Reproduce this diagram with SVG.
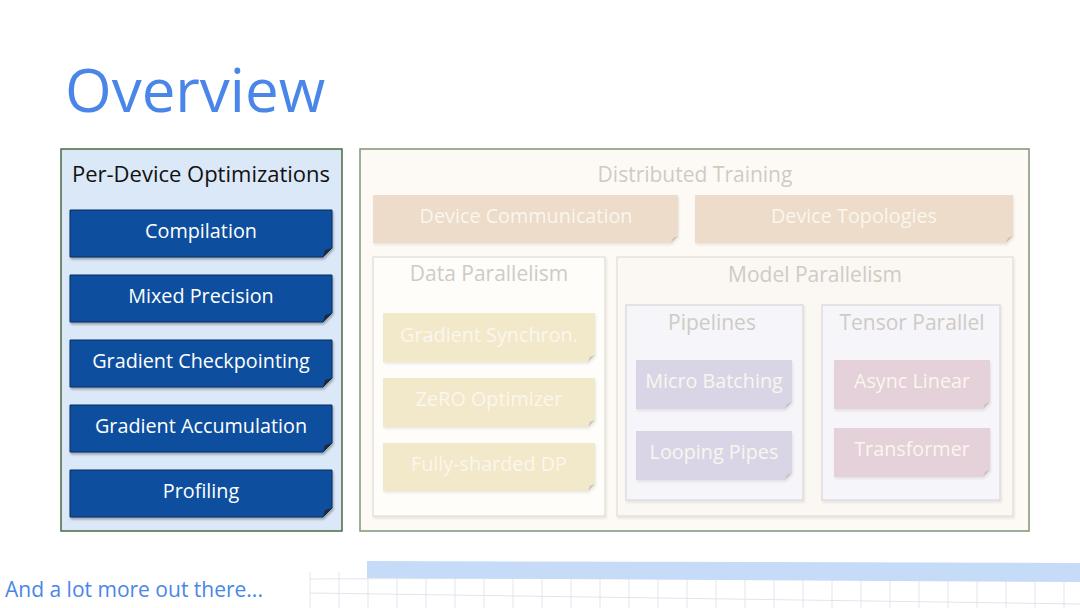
<svg xmlns="http://www.w3.org/2000/svg" width="1080" height="608" viewBox="0 0 1080 608">
<defs>
<style>
.t{font-family:"Open Sans","Liberation Sans",sans-serif;text-anchor:middle}
.blue{fill:#0d4f9e;stroke:#0a2f5e;stroke-width:1}
.bt{fill:#ffffff;font-size:19.8px}
.hd{fill:#cfcbc4;font-size:21px}
.lt{fill:#fbf6ee;font-size:19.8px}
.fold{fill:#1d2a3a}
.foldl{fill:#c9c2b6}
.grid{stroke:#e0e5ed;stroke-width:1}
</style>
<filter id="sh" x="-5%" y="-5%" width="110%" height="120%">
<feDropShadow dx="1" dy="2" stdDeviation="1.2" flood-color="#000" flood-opacity="0.3"/>
</filter>
<filter id="shl" x="-5%" y="-5%" width="110%" height="120%">
<feDropShadow dx="1" dy="2" stdDeviation="1.2" flood-color="#000" flood-opacity="0.08"/>
</filter>
</defs>
<rect width="1080" height="608" fill="#ffffff"/>
<text x="65" y="112" font-family="'Open Sans','Liberation Sans',sans-serif" font-size="60" fill="#4a86e8">Overview</text>

<g id="per-device">
<rect x="61" y="149" width="281" height="382" fill="#dbe8f8" stroke="#4b6b3e" stroke-width="1.5"/>
<text class="t" x="201" y="182" font-size="22" fill="#111">Per-Device Optimizations</text>
</g>
<g id="compilation">
<path class="blue" filter="url(#sh)" d="M70,210H332V248L323,257H70Z"/>
<path class="fold" d="M332,248L323,257L325,250Z"/>
<text class="t bt" x="201" y="238">Compilation</text>
</g>
<g id="mixed-precision">
<path class="blue" filter="url(#sh)" d="M70,275H332V313L323,322H70Z"/>
<path class="fold" d="M332,313L323,322L325,315Z"/>
<text class="t bt" x="201" y="303">Mixed Precision</text>
</g>
<g id="gradient-checkpointing">
<path class="blue" filter="url(#sh)" d="M70,340H332V378L323,387H70Z"/>
<path class="fold" d="M332,378L323,387L325,380Z"/>
<text class="t bt" x="201" y="368">Gradient Checkpointing</text>
</g>
<g id="gradient-accumulation">
<path class="blue" filter="url(#sh)" d="M70,405H332V443L323,452H70Z"/>
<path class="fold" d="M332,443L323,452L325,445Z"/>
<text class="t bt" x="201" y="433">Gradient Accumulation</text>
</g>
<g id="profiling">
<path class="blue" filter="url(#sh)" d="M70,470H332V508L323,517H70Z"/>
<path class="fold" d="M332,508L323,517L325,510Z"/>
<text class="t bt" x="201" y="498">Profiling</text>
</g>

<g id="distributed">
<rect x="360" y="149" width="669" height="382" fill="#fdfaf5" stroke="#7d947a" stroke-width="1.5"/>
<text class="t hd" x="695" y="182">Distributed Training</text>
</g>
<g id="device-communication">
<path filter="url(#shl)" fill="#ecdcc9" d="M373,195H678V236L671,243H373Z"/>
<path class="foldl" d="M678,236L671,243L673,238Z"/>
<text class="t lt" x="526" y="223">Device Communication</text>
</g>
<g id="device-topologies">
<path filter="url(#shl)" fill="#ecdcc9" d="M695,195H1013V236L1006,243H695Z"/>
<path class="foldl" d="M1013,236L1006,243L1008,238Z"/>
<text class="t lt" x="854" y="223">Device Topologies</text>
</g>

<g id="data-parallelism">
<rect x="373" y="257" width="232" height="259" fill="#fefdfa" stroke="#e6e2da" stroke-width="1.5" filter="url(#shl)"/>
<text class="t hd" x="489" y="281">Data Parallelism</text>
</g>
<g id="gradient-synchron">
<path filter="url(#shl)" fill="#f2e9ca" d="M383,313H595V355L588,362H383Z"/>
<path class="foldl" d="M595,355L588,362L590,357Z"/>
<text class="t lt" x="489" y="342">Gradient Synchron.</text>
</g>
<g id="zero-optimizer">
<path filter="url(#shl)" fill="#f2e9ca" d="M383,378H595V420L588,427H383Z"/>
<path class="foldl" d="M595,420L588,427L590,422Z"/>
<text class="t lt" x="489" y="406">ZeRO Optimizer</text>
</g>
<g id="fully-sharded-dp">
<path filter="url(#shl)" fill="#f2e9ca" d="M383,443H595V484L588,491H383Z"/>
<path class="foldl" d="M595,484L588,491L590,486Z"/>
<text class="t lt" x="489" y="471">Fully-sharded DP</text>
</g>

<g id="model-parallelism">
<rect x="617" y="257" width="396" height="259" fill="#fbf7f3" stroke="#e6e2da" stroke-width="1.5" filter="url(#shl)"/>
<text class="t hd" x="815" y="282">Model Parallelism</text>
</g>
<g id="pipelines">
<rect x="626" y="305" width="177" height="195" fill="#f6f5fa" stroke="#dedcdf" stroke-width="1.5" filter="url(#shl)"/>
<text class="t hd" x="712" y="330">Pipelines</text>
</g>
<g id="micro-batching">
<path filter="url(#shl)" fill="#d9d5e6" d="M636,360H792V402L785,409H636Z"/>
<path class="foldl" d="M792,402L785,409L787,404Z"/>
<text class="t lt" x="714" y="388">Micro Batching</text>
</g>
<g id="looping-pipes">
<path filter="url(#shl)" fill="#d9d5e6" d="M636,431H792V473L785,480H636Z"/>
<path class="foldl" d="M792,473L785,480L787,475Z"/>
<text class="t lt" x="714" y="459">Looping Pipes</text>
</g>
<g id="tensor-parallel">
<rect x="822" y="305" width="178" height="195" fill="#f6f5fa" stroke="#dedcdf" stroke-width="1.5" filter="url(#shl)"/>
<text class="t hd" x="912" y="330">Tensor Parallel</text>
</g>
<g id="async-linear">
<path filter="url(#shl)" fill="#e4d1d9" d="M834,360H990V402L983,409H834Z"/>
<path class="foldl" d="M990,402L983,409L985,404Z"/>
<text class="t lt" x="912" y="388">Async Linear</text>
</g>
<g id="transformer">
<path filter="url(#shl)" fill="#e4d1d9" d="M834,428H990V470L983,477H834Z"/>
<path class="foldl" d="M990,470L983,477L985,472Z"/>
<text class="t lt" x="912" y="456">Transformer</text>
</g>

<g id="connectors"></g>

<g id="decor">
<g class="grid">
<path d="M310,572V608M339,572V608M368,572V608M397,572V608M426,572V608M455,572V608M484,572V608M513,572V608M542,572V608M571,572V608M600,572V608M629,572V608M658,572V608M687,572V608M716,572V608M745,572V608M774,572V608M803,572V608M832,572V608M861,572V608M890,572V608M919,572V608M948,572V608M977,572V608M1006,572V608M1035,572V608M1064,572V608"/>
<path d="M310,579L1080,576M310,593L1080,604"/>
</g>
<path d="M367,561L1080,563V582L367,578Z" fill="#c6dbf7"/>
</g>
<text x="5" y="597" font-family="'Open Sans','Liberation Sans',sans-serif" font-size="21" fill="#4a86e8">And a lot more out there...</text>
</svg>
